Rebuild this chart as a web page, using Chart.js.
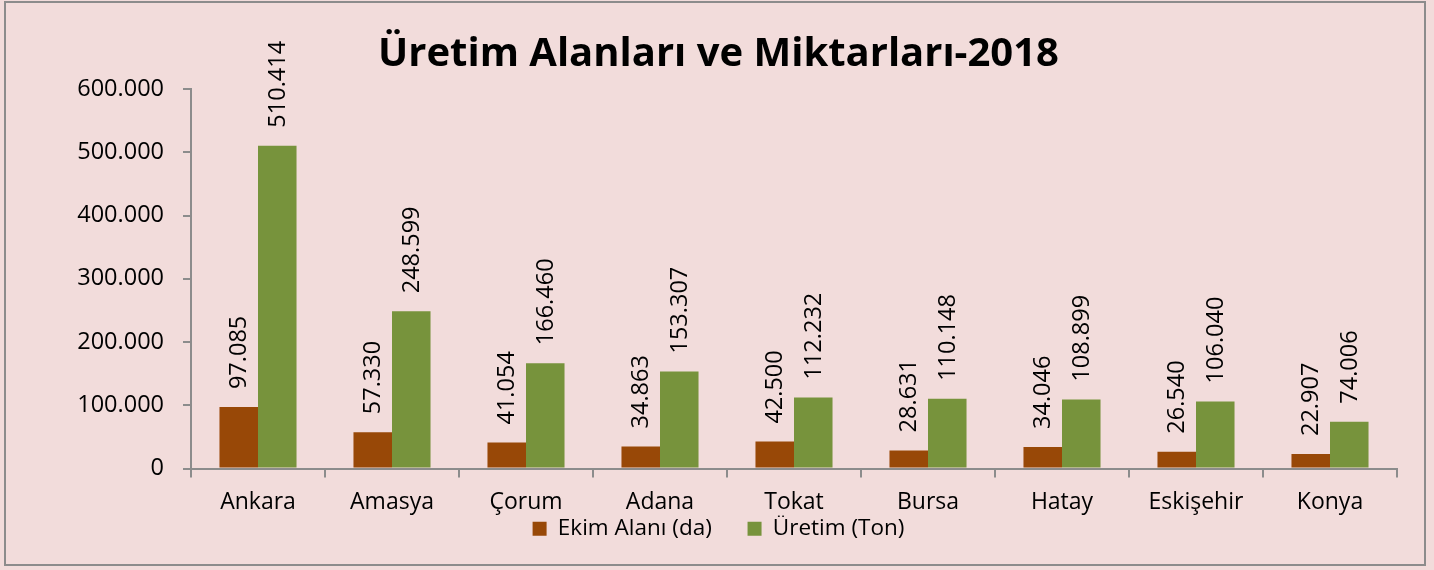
<!DOCTYPE html>
<html>
<head>
<meta charset="utf-8">
<script src="https://cdn.jsdelivr.net/npm/chart.js@4/dist/chart.umd.min.js"></script>
<style>
html,body{margin:0;padding:0;background:#F2DCDB;}
#wrap{width:1434px;height:570px;position:relative;}
</style>
</head>
<body>
<div id="wrap"><canvas id="c" width="1434" height="570"></canvas></div>
<script>
const categories = ["Ankara","Amasya","Çorum","Adana","Tokat","Bursa","Hatay","Eskişehir","Konya"];
const ekimAlani = [97085, 57330, 41054, 34863, 42500, 28631, 34046, 26540, 22907];
const uretim = [510414, 248599, 166460, 153307, 112232, 110148, 108899, 106040, 74006];
const seriesNames = ["Ekim Alanı (da)", "Üretim (Ton)"];
const titleText = "Üretim Alanları ve Miktarları-2018";
const yMax = 600000;
const yStep = 100000;

const FONT = "'Open Sans', sans-serif";
function fmt(v){ return String(v).replace(/\B(?=(\d{3})+(?!\d))/g, "."); }

const bgPlugin = {
  id: 'bg',
  beforeDraw(chart){
    const ctx = chart.ctx;
    ctx.save();
    ctx.fillStyle = '#F2DCDB';
    ctx.fillRect(0,0,chart.width,chart.height);
    ctx.strokeStyle = '#8C8C8C';
    ctx.lineWidth = 2;
    ctx.strokeRect(5,2,1420,563);
    ctx.restore();
  }
};

const labelPlugin = {
  id: 'vlabels',
  afterDatasetsDraw(chart){
    const ctx = chart.ctx;
    ctx.save();
    ctx.font = "23.5px " + FONT;
    ctx.fillStyle = '#000';
    ctx.textAlign = 'left';
    ctx.textBaseline = 'middle';
    chart.data.datasets.forEach((ds, di) => {
      const meta = chart.getDatasetMeta(di);
      meta.data.forEach((bar, i) => {
        ctx.save();
        ctx.translate(bar.x + 1, bar.y - 18);
        ctx.rotate(-Math.PI/2);
        ctx.fillText(fmt(ds.data[i]), 0, 0);
        ctx.restore();
      });
    });
    ctx.restore();
  }
};

new Chart(document.getElementById('c'), {
  type: 'bar',
  data: {
    labels: categories,
    datasets: [
      { label: seriesNames[0], data: ekimAlani, backgroundColor: '#984807', categoryPercentage: 0.575, barPercentage: 1.0 },
      { label: seriesNames[1], data: uretim, backgroundColor: '#77933C', categoryPercentage: 0.575, barPercentage: 1.0 }
    ]
  },
  options: {
    responsive: false,
    animation: false,
    devicePixelRatio: 1,
    layout: { padding: { left: 40, right: 37, top: 0, bottom: 20 } },
    plugins: {
      title: {
        display: true,
        text: titleText,
        color: '#000',
        font: { family: FONT, size: 40, weight: 'bold', lineHeight: 1.2 },
        padding: { top: 31, bottom: 10 }
      },
      legend: {
        display: true,
        position: 'bottom',
        labels: {
          color: '#000',
          font: { family: FONT, size: 22.5 },
          boxWidth: 14, boxHeight: 14,
          padding: 2,
          generateLabels(chart){
            const items = Chart.defaults.plugins.legend.labels.generateLabels(chart);
            items.forEach((it, i) => { if (i < items.length - 1) it.text = it.text + '\u2002\u2002\u2002'; it.lineWidth = 0; });
            return items;
          }
        }
      },
      tooltip: { enabled: false }
    },
    scales: {
      x: {
        grid: { display: true, drawOnChartArea: false, drawTicks: true, tickLength: 9, color: '#8C8C8C', lineWidth: 2, offset: true },
        border: { display: true, color: '#8C8C8C', width: 2 },
        ticks: { color: '#000', font: { family: FONT, size: 23 }, padding: 11, maxRotation: 0, autoSkip: false },
        afterFit(scale){ scale.height = 47; }
      },
      y: {
        min: 0, max: yMax,
        grid: { display: true, drawOnChartArea: false, drawTicks: true, tickLength: 8, color: '#8C8C8C', lineWidth: 2 },
        border: { display: true, color: '#8C8C8C', width: 2 },
        ticks: { stepSize: yStep, color: '#000', font: { family: FONT, size: 23.5 }, padding: 19, callback: v => fmt(v) },
        afterFit(scale){ scale.width = 151; }
      }
    }
  },
  plugins: [bgPlugin, labelPlugin]
});
</script>
</body>
</html>
